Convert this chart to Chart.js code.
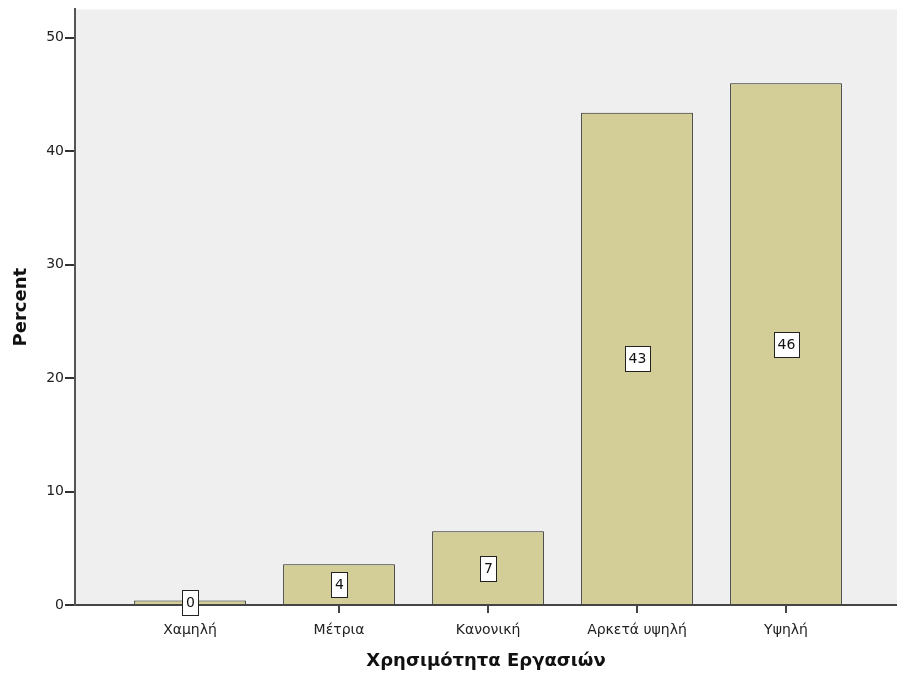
<!DOCTYPE html>
<html>
<head>
<meta charset="utf-8">
<script src="https://cdn.jsdelivr.net/npm/chart.js@4"></script>
<style>
    html, body { margin: 0; padding: 0; background: #fff; }
    #wrap { width: 897px; height: 677px; }
</style>
</head>
<body>
<div id="wrap"><canvas id="chart" width="897" height="677"></canvas></div>
<script>
// data
const categories = ['Χαμηλή', 'Μέτρια', 'Κανονική', 'Αρκετά υψηλή', 'Υψηλή'];
const percents = [0.4, 3.6, 6.5, 43.4, 46.0];
const yTicks = [0, 10, 20, 30, 40, 50];

const FONT = '"DejaVu Sans", sans-serif';

// gray plot background
const plotBackground = {
    id: 'plotBackground',
    beforeDraw(chart) {
        const { ctx, chartArea } = chart;
        ctx.save();
        ctx.fillStyle = '#efefef';
        ctx.fillRect(chartArea.left, chartArea.top, chartArea.right - chartArea.left, chartArea.bottom - chartArea.top);
        ctx.restore();
    }
};

// value boxes in the middle of each bar
const valueBoxes = {
    id: 'valueBoxes',
    afterDatasetsDraw(chart) {
        const ctx = chart.ctx;
        const meta = chart.getDatasetMeta(0);
        ctx.save();
        ctx.font = '14px ' + FONT;
        ctx.textAlign = 'center';
        ctx.textBaseline = 'middle';
        meta.data.forEach((bar, i) => {
            const text = Math.round(percents[i]).toString();
            const w = Math.round(ctx.measureText(text).width + 7);
            const h = 25;
            const cx = Math.round(bar.x);
            const cy = Math.round((bar.y + bar.base) / 2);
            const left = Math.round(cx - w / 2);
            const top = Math.round(cy - h / 2);
            ctx.fillStyle = '#ffffff';
            ctx.fillRect(left, top, w, h);
            ctx.strokeStyle = '#222';
            ctx.lineWidth = 1;
            ctx.strokeRect(left + 0.5, top + 0.5, w, h);
            ctx.fillStyle = '#111';
            ctx.fillText(text, cx + 0.5, cy + 1);
        });
        ctx.restore();
    }
};

const ctx = document.getElementById('chart').getContext('2d');
new Chart(ctx, {
    type: 'bar',
    data: {
        datasets: [{
            data: percents.map((v, i) => ({ x: i, y: v })),
            backgroundColor: '#d3ce97',
            borderColor: '#222222',
            borderWidth: 1,
            categoryPercentage: 1,
            barPercentage: 0.75
        }]
    },
    options: {
        responsive: false,
        animation: false,
        layout: { padding: { top: 8, right: 0, left: 0, bottom: 0 } },
        plugins: {
            legend: { display: false },
            tooltip: { enabled: false }
        },
        scales: {
            x: {
                type: 'linear',
                offset: false,
                min: -0.772,
                max: 4.745,
                afterBuildTicks: scale => {
                    scale.ticks = categories.map((c, i) => ({ value: i }));
                },
                afterFit: scale => { scale.height = 72; },
                ticks: {
                    callback: value => categories[value],
                    color: '#222',
                    font: { family: FONT, size: 14 },
                    padding: 9,
                    maxRotation: 0,
                    autoSkip: false
                },
                grid: {
                    offset: false,
                    drawOnChartArea: false,
                    drawTicks: true,
                    tickLength: 8,
                    color: '#444',
                    lineWidth: 2
                },
                border: { display: true, color: '#444', width: 2 },
                title: {
                    display: true,
                    text: 'Χρησιμότητα Εργασιών',
                    color: '#111',
                    font: { family: FONT, size: 18, weight: 'bold' },
                    padding: { top: 0, bottom: 5 }
                }
            },
            y: {
                min: 0,
                max: 52.5,
                afterBuildTicks: scale => {
                    scale.ticks = yTicks.map(v => ({ value: v }));
                },
                afterFit: scale => { scale.width = 75; },
                ticks: {
                    color: '#222',
                    font: { family: FONT, size: 14 },
                    padding: 1
                },
                grid: {
                    drawOnChartArea: false,
                    drawTicks: true,
                    tickLength: 10,
                    color: '#333',
                    lineWidth: 2
                },
                border: { display: true, color: '#555', width: 2 },
                title: {
                    display: true,
                    text: 'Percent',
                    color: '#111',
                    font: { family: FONT, size: 18, weight: 'bold' },
                    padding: { top: 11, bottom: 0 }
                }
            }
        }
    },
    plugins: [plotBackground, valueBoxes]
});
</script>
</body>
</html>
